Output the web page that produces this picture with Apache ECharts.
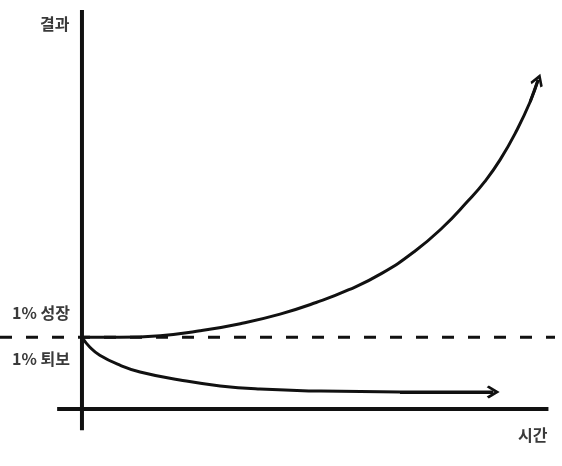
<!DOCTYPE html>
<html>
<head>
<meta charset="utf-8">
<script src="https://cdn.jsdelivr.net/npm/echarts@6/dist/echarts.min.js"></script>
<style>
  html, body { margin: 0; padding: 0; background: #fff; }
  #chart { width: 562px; height: 466px; }
</style>
</head>
<body>
<div id="chart"></div>
<script>
// 1% 성장 / 1% 퇴보 곡선 (그림에서 눈으로 읽은 값)
const growthTime  = [0, 8, 16.7, 25.2, 33.8, 42.3, 50, 57, 64, 71, 77, 82.3, 86, 89.3, 92.9, 95.7, 97.4];
const growthValue = [18.0, 18.0, 18.4, 19.6, 21.4, 23.8, 26.7, 29.9, 34.0, 39.5, 45.5, 52.0, 57.0, 62.5, 70.0, 77.0, 82.5];

const declineTime  = [0, 1.7, 3.8, 8.1, 12.4, 20.9, 29.5, 38.0, 50.9, 67.9, 87.8];
const declineValue = [18.0, 15.5, 13.5, 11.0, 9.3, 7.3, 5.8, 5.0, 4.5, 4.3, 4.3];

// 기준선(점선)과 축
const baselineValue = 18;
const baselineRange = [-17.5, 101];
const xAxisRange = [-5.3, 99.6];
const yAxisRange = [-5.3, 100];

const labels = {
  yName: '결과',
  xName: '시간',
  up: '1% 성장',
  down: '1% 퇴보'
};

const INK = '#111';
const toPairs = (xs, ys) => xs.map((x, i) => [x, ys[i]]);
const growth = toPairs(growthTime, growthValue);
const decline = toPairs(declineTime, declineValue);

// 열린 화살촉 (위쪽이 꼭짓점)
const chevron = 'path://M50,0 L100,62 L86,74 L50,30 L14,74 L0,62 Z';

const lastSeg = (pts) => [pts[pts.length - 2], pts[pts.length - 1]];

const chart = echarts.init(document.getElementById('chart'));

const textStyle = {
  fill: '#3a3a3a', fontSize: 16, fontWeight: 'bold',
  fontFamily: '"Noto Sans CJK KR", sans-serif'
};

const option = {
  animation: false,
  backgroundColor: '#fff',
  grid: { left: 0, right: 7, top: 10, bottom: 33 },
  xAxis: { type: 'value', min: -17.5, max: 101, show: false },
  yAxis: { type: 'value', min: -6, max: 100, show: false },
  series: [
    {
      name: 'baseline',
      type: 'line',
      data: [[baselineRange[0], baselineValue], [baselineRange[1], baselineValue]],
      symbol: 'none',
      lineStyle: { color: INK, width: 3, type: [12, 14] }
    },
    {
      name: 'x축',
      type: 'line',
      data: [[xAxisRange[0], 0], [xAxisRange[1], 0]],
      symbol: 'none',
      lineStyle: { color: INK, width: 4 }
    },
    {
      name: 'y축',
      type: 'line',
      data: [[0, yAxisRange[0]], [0, yAxisRange[1]]],
      symbol: 'none',
      lineStyle: { color: INK, width: 4 }
    },
    {
      name: labels.up,
      type: 'line',
      data: growth,
      smooth: 0.5,
      symbol: 'none',
      lineStyle: { color: INK, width: 3 }
    },
    {
      name: labels.down,
      type: 'line',
      data: decline,
      smooth: 0.5,
      symbol: 'none',
      lineStyle: { color: INK, width: 3 }
    },
    {
      name: 'arrows',
      type: 'lines',
      coordinateSystem: 'cartesian2d',
      symbol: ['none', chevron],
      symbolSize: [18, 13],
      lineStyle: { color: INK, width: 3, opacity: 1 },
      itemStyle: { color: INK },
      data: [
        { coords: lastSeg(growth) },
        { coords: lastSeg(decline) }
      ]
    }
  ],
  graphic: [
    { type: 'text', left: 40, top: 16, style: Object.assign({ text: labels.yName }, textStyle) },
    { type: 'text', left: 12, top: 305, style: Object.assign({ text: labels.up }, textStyle) },
    { type: 'text', left: 12, top: 351, style: Object.assign({ text: labels.down }, textStyle) },
    { type: 'text', left: 518, top: 427, style: Object.assign({ text: labels.xName }, textStyle) }
  ]
};

chart.setOption(option);
</script>
</body>
</html>
